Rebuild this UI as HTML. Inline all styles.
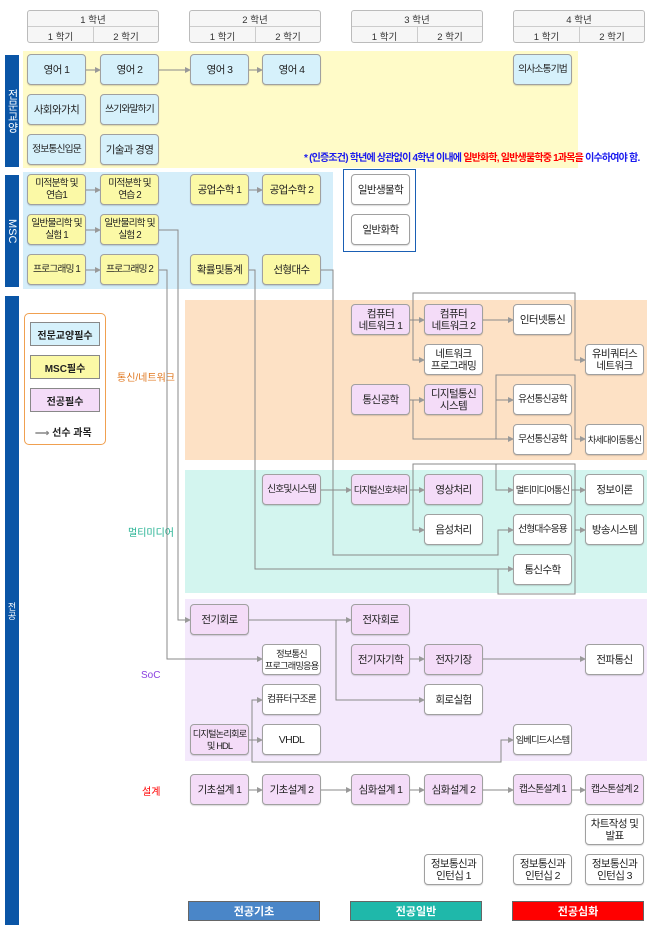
<!DOCTYPE html>
<html><head><meta charset="utf-8">
<style>
*{margin:0;padding:0;box-sizing:border-box}
body{width:650px;height:931px;background:#fff;position:relative;overflow:hidden;font-family:"Liberation Sans","Noto Sans CJK KR",sans-serif;color:#222}
.a{position:absolute}
.b{position:absolute;width:59px;height:31px;border:1px solid #a0a0a0;border-radius:4px;font-size:10.5px;line-height:12px;display:flex;align-items:center;justify-content:center;text-align:center;letter-spacing:-0.6px;box-shadow:0 1px 1px rgba(0,0,0,.15);white-space:nowrap;overflow:hidden}
.s{font-size:9.8px;letter-spacing:-0.9px}
.g{background:#d6f1fb}.m{background:#fbf9a6}.p{background:#f4dcf8}.w{background:#fff}
.hd{position:absolute;top:10px;width:132px;height:33px;border:1px solid #bbb;border-radius:3px;background:#f6f6f6;font-size:9.5px;color:#333}
.hd div{position:absolute;text-align:center}
.side{position:absolute;left:5px;width:14px;background:#0a55a6;color:#fff;font-size:11px;display:flex;align-items:center;justify-content:center}
.bar{position:absolute;top:901px;height:20px;width:132px;color:#fff;font-size:11px;font-weight:bold;display:flex;align-items:center;justify-content:center;border:1px solid #666}
</style></head><body>
<div class="hd" style="left:27px"><div style="left:0;width:130px;top:1px">1 학년</div><div style="left:0;top:15px;width:130px;border-top:1px solid #ccc;height:17px"></div><div style="left:0;width:65px;top:18px">1 학기</div><div style="left:65px;width:65px;border-left:1px solid #ccc;height:15px;top:16px;padding-top:2px">2 학기</div></div>
<div class="hd" style="left:189px"><div style="left:0;width:130px;top:1px">2 학년</div><div style="left:0;top:15px;width:130px;border-top:1px solid #ccc;height:17px"></div><div style="left:0;width:65px;top:18px">1 학기</div><div style="left:65px;width:65px;border-left:1px solid #ccc;height:15px;top:16px;padding-top:2px">2 학기</div></div>
<div class="hd" style="left:351px"><div style="left:0;width:130px;top:1px">3 학년</div><div style="left:0;top:15px;width:130px;border-top:1px solid #ccc;height:17px"></div><div style="left:0;width:65px;top:18px">1 학기</div><div style="left:65px;width:65px;border-left:1px solid #ccc;height:15px;top:16px;padding-top:2px">2 학기</div></div>
<div class="hd" style="left:513px"><div style="left:0;width:130px;top:1px">4 학년</div><div style="left:0;top:15px;width:130px;border-top:1px solid #ccc;height:17px"></div><div style="left:0;width:65px;top:18px">1 학기</div><div style="left:65px;width:65px;border-left:1px solid #ccc;height:15px;top:16px;padding-top:2px">2 학기</div></div>

<div class="side" style="top:55px;height:112px"><span style="writing-mode:vertical-rl">전문교양</span></div>
<div class="side" style="top:175px;height:112px"><span style="writing-mode:vertical-rl">MSC</span></div>
<div class="side" style="top:296px;height:629px"><span style="writing-mode:vertical-rl;text-orientation:upright;font-size:9px">전공</span></div>

<div class="a" style="left:23px;top:51px;width:555px;height:117px;background:#fffbc8"></div>
<div class="a" style="left:23px;top:172px;width:310px;height:117px;background:#d5eefa"></div>
<div class="a" style="left:185px;top:300px;width:462px;height:160px;background:#fde1c5"></div>
<div class="a" style="left:185px;top:470px;width:462px;height:123px;background:#d3f5ef"></div>
<div class="a" style="left:185px;top:599px;width:462px;height:162px;background:#f4e9fc"></div>

<div class="a" style="left:304px;top:149px;font-size:10px;font-weight:bold;letter-spacing:-0.8px;white-space:nowrap;color:#1a1aee">* (인증조건) 학년에 상관없이 4학년 이내에 <span style="color:#f00">일반화학, 일반생물학중 1과목을</span> 이수하여야 함.</div>
<div class="a" style="left:343px;top:169px;width:73px;height:83px;border:1px solid #1a5fb4;background:#fff"></div>

<div class="a" style="left:24px;top:313px;width:82px;height:132px;border:1px solid #f0a050;border-radius:5px;background:#fff"></div>
<div class="a" style="left:30px;top:322px;width:70px;height:24px;background:#d6f1fb;border:1px solid #888;font-size:10px;font-weight:bold;display:flex;align-items:center;justify-content:center">전문교양필수</div>
<div class="a" style="left:30px;top:355px;width:70px;height:24px;background:#fbf9a6;border:1px solid #888;font-size:10px;font-weight:bold;display:flex;align-items:center;justify-content:center">MSC필수</div>
<div class="a" style="left:30px;top:388px;width:70px;height:24px;background:#f4dcf8;border:1px solid #888;font-size:10px;font-weight:bold;display:flex;align-items:center;justify-content:center">전공필수</div>
<div class="a" style="left:35px;top:424px;font-size:10px;font-weight:bold;white-space:nowrap"><span style="color:#888">⟶</span> 선수 과목</div>

<div class="a" style="left:117px;top:369px;font-size:10px;color:#e07820;white-space:nowrap">통신/네트워크</div>
<div class="a" style="left:128px;top:524px;font-size:10px;color:#20b090;white-space:nowrap">멀티미디어</div>
<div class="a" style="left:141px;top:670px;font-size:10px;color:#8a40e0">SoC</div>
<div class="a" style="left:142px;top:783px;font-size:10px;color:#f00">설계</div>

<svg class="a" style="left:0;top:0" width="650" height="931">
<defs><marker id="ar" markerWidth="6" markerHeight="6" refX="5" refY="3" orient="auto" markerUnits="userSpaceOnUse"><path d="M0,0 L6,3 L0,6z" fill="#999"/></marker></defs>
<g fill="none" stroke="#8a8a8a" stroke-width="1" marker-end="url(#ar)">
<path d="M86 70H100"/><path d="M159 70H190"/><path d="M249 70H262"/>
<path d="M86 190H100"/><path d="M249 190H262"/><path d="M86 230H100"/><path d="M86 270H100"/>
<path d="M159 230H178V620H190"/>
<path d="M159 270H167V659H262"/>
<path d="M249 270H255V569H513"/>
<path d="M321 270H333V555H498V530H513"/>
<path d="M410 320H424"/><path d="M413 320V360H424"/><path d="M413 320V293H575V360H585"/><path d="M483 320H513"/>
<path d="M410 400H424"/><path d="M413 400V439H513"/><path d="M496 439V375H575V439H585"/><path d="M496 400H513"/>
<path d="M320 490H351"/><path d="M410 490H424"/><path d="M413 490V530H424"/><path d="M413 490V464H575V594H498V569" marker-end="none"/><path d="M496 464V490H513"/><path d="M572 490H585"/><path d="M575 530H585"/>
<path d="M249 620H351"/><path d="M336 620V700H424"/><path d="M410 659H424"/><path d="M483 659H585"/>
<path d="M249 740H262"/><path d="M252 740V700H262"/><path d="M252 740V762H501V740H513"/>
<path d="M249 790H262"/><path d="M321 790H351"/><path d="M410 790H424"/><path d="M483 790H513"/><path d="M572 790H585"/>
</g></svg>

<div class="b g" style="left:27px;top:54px">영어 1</div>
<div class="b g" style="left:100px;top:54px">영어 2</div>
<div class="b g" style="left:190px;top:54px">영어 3</div>
<div class="b g" style="left:262px;top:54px">영어 4</div>
<div class="b g s" style="left:513px;top:54px">의사소통기법</div>
<div class="b g" style="left:27px;top:94px">사회와가치</div>
<div class="b g s" style="left:100px;top:94px">쓰기와말하기</div>
<div class="b g s" style="left:27px;top:134px">정보통신입문</div>
<div class="b g" style="left:100px;top:134px">기술과 경영</div>
<div class="b m s" style="left:27px;top:174px">미적분학 및<br>연습1</div>
<div class="b m s" style="left:100px;top:174px">미적분학 및<br>연습 2</div>
<div class="b m" style="left:190px;top:174px">공업수학 1</div>
<div class="b m" style="left:262px;top:174px">공업수학 2</div>
<div class="b w" style="left:351px;top:174px">일반생물학</div>
<div class="b m s" style="left:27px;top:214px">일반물리학 및<br>실험 1</div>
<div class="b m s" style="left:100px;top:214px">일반물리학 및<br>실험 2</div>
<div class="b w" style="left:351px;top:214px">일반화학</div>
<div class="b m s" style="left:27px;top:254px">프로그래밍 1</div>
<div class="b m s" style="left:100px;top:254px">프로그래밍 2</div>
<div class="b m" style="left:190px;top:254px">확률및통계</div>
<div class="b m" style="left:262px;top:254px">선형대수</div>
<div class="b p" style="left:351px;top:304px">컴퓨터<br>네트워크 1</div>
<div class="b p" style="left:424px;top:304px">컴퓨터<br>네트워크 2</div>
<div class="b w" style="left:513px;top:304px">인터넷통신</div>
<div class="b w" style="left:424px;top:344px">네트워크<br>프로그래밍</div>
<div class="b w" style="left:585px;top:344px">유비쿼터스<br>네트워크</div>
<div class="b p" style="left:351px;top:384px">통신공학</div>
<div class="b p" style="left:424px;top:384px">디지털통신<br>시스템</div>
<div class="b w s" style="left:513px;top:384px">유선통신공학</div>
<div class="b w s" style="left:513px;top:424px">무선통신공학</div>
<div class="b w s" style="left:585px;top:424px;font-size:9.3px">차세대이동통신</div>
<div class="b p s" style="left:262px;top:474px">신호및시스템</div>
<div class="b p s" style="left:351px;top:474px;font-size:9.3px">디지털신호처리</div>
<div class="b p" style="left:424px;top:474px">영상처리</div>
<div class="b w s" style="left:513px;top:474px;font-size:9.3px">멀티미디어통신</div>
<div class="b w" style="left:585px;top:474px">정보이론</div>
<div class="b w" style="left:424px;top:514px">음성처리</div>
<div class="b w s" style="left:513px;top:514px">선형대수응용</div>
<div class="b w" style="left:585px;top:514px">방송시스템</div>
<div class="b w" style="left:513px;top:554px">통신수학</div>
<div class="b p" style="left:190px;top:604px">전기회로</div>
<div class="b p" style="left:351px;top:604px">전자회로</div>
<div class="b w s" style="left:262px;top:644px;font-size:9.3px">정보통신<br>프로그래밍응용</div>
<div class="b p" style="left:351px;top:644px">전기자기학</div>
<div class="b p" style="left:424px;top:644px">전자기장</div>
<div class="b w" style="left:585px;top:644px">전파통신</div>
<div class="b w s" style="left:262px;top:684px">컴퓨터구조론</div>
<div class="b w" style="left:424px;top:684px">회로실험</div>
<div class="b p s" style="left:190px;top:724px;font-size:9.3px">디지털논리회로<br>및 HDL</div>
<div class="b w" style="left:262px;top:724px">VHDL</div>
<div class="b w s" style="left:513px;top:724px;font-size:9.3px">임베디드시스템</div>
<div class="b p" style="left:190px;top:774px">기초설계 1</div>
<div class="b p" style="left:262px;top:774px">기초설계 2</div>
<div class="b p" style="left:351px;top:774px">심화설계 1</div>
<div class="b p" style="left:424px;top:774px">심화설계 2</div>
<div class="b p s" style="left:513px;top:774px">캡스톤설계 1</div>
<div class="b p s" style="left:585px;top:774px">캡스톤설계 2</div>
<div class="b w" style="left:585px;top:814px">차트작성 및<br>발표</div>
<div class="b w" style="left:424px;top:854px">정보통신과<br>인턴십 1</div>
<div class="b w" style="left:513px;top:854px">정보통신과<br>인턴십 2</div>
<div class="b w" style="left:585px;top:854px">정보통신과<br>인턴십 3</div>

<div class="bar" style="left:188px;background:#4a86c8">전공기초</div>
<div class="bar" style="left:350px;background:#1fb8aa">전공일반</div>
<div class="bar" style="left:512px;background:#f00">전공심화</div>
</body></html>
